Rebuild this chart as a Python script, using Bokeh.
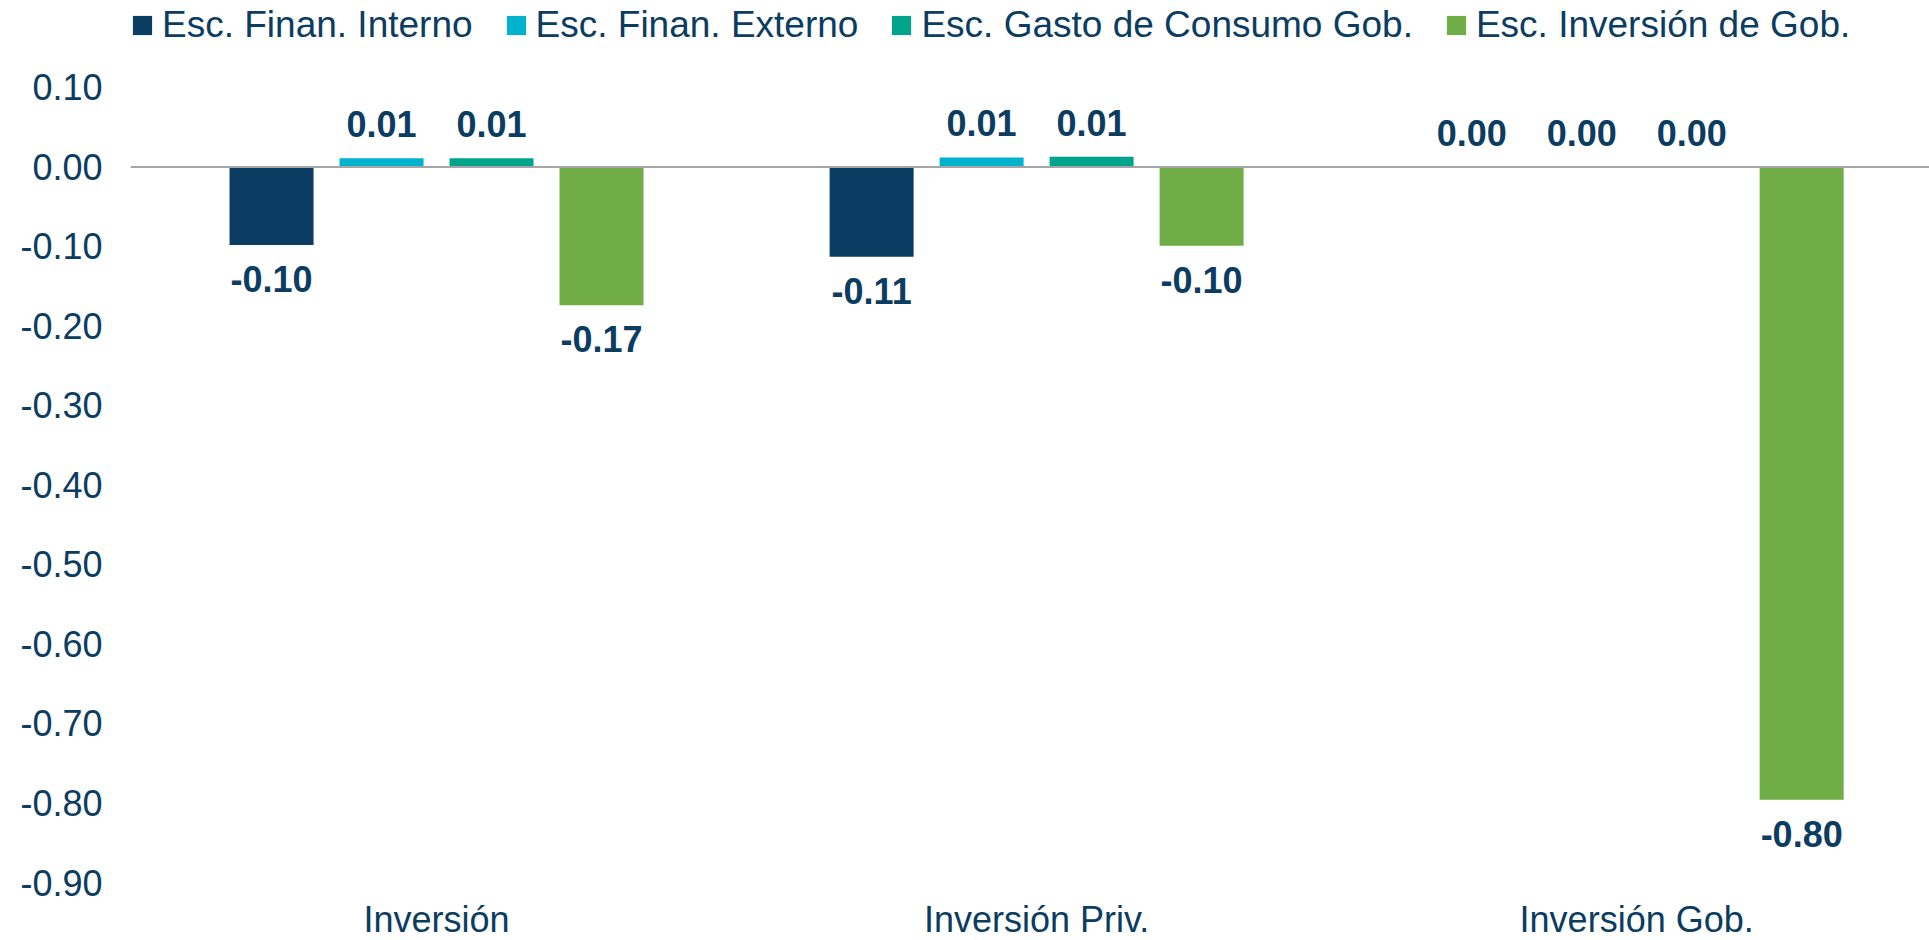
from bokeh.plotting import figure
from bokeh.models import (ColumnDataSource, Range1d, FixedTicker, NumeralTickFormatter,
                          Span, Legend, LegendItem)
from bokeh.transform import dodge
from bokeh.core.properties import value
from bokeh.embed import file_html
from bokeh.resources import INLINE

categories = ["Inversión", "Inversión Priv.", "Inversión Gob."]
series_names = ["Esc. Finan. Interno", "Esc. Finan. Externo",
                "Esc. Gasto de Consumo Gob.", "Esc. Inversión de Gob."]
finan_interno = [-0.098, -0.113, 0.000]
finan_externo = [0.011, 0.012, 0.000]
gasto_consumo = [0.011, 0.013, 0.000]
inversion_gob = [-0.174, -0.099, -0.796]
y_ticks = [0.10, 0.00, -0.10, -0.20, -0.30, -0.40, -0.50, -0.60, -0.70, -0.80, -0.90]

colors = ["#0B3C61", "#00B2CD", "#00A38C", "#70AD47"]
TEXT = "#0B3C61"
FONT = "Liberation Sans"

series = [finan_interno, finan_externo, gasto_consumo, inversion_gob]
pos = [i + 0.5 for i in range(len(categories))]

p = figure(frame_width=1799, frame_height=882, output_backend="svg", toolbar_location=None,
           x_range=Range1d(-0.01, 2.988), y_range=Range1d(-0.9, 0.2094),
           min_border_left=130, min_border_top=0, min_border_right=0, min_border_bottom=0)
p.outline_line_color = None
p.xgrid.grid_line_color = None
p.ygrid.grid_line_color = None
p.background_fill_color = "white"

bar_w = 0.14
step = 0.1833
offsets = [-1.5 * step, -0.5 * step, 0.5 * step, 1.5 * step]

items = []
for k, (name, vals, col, off) in enumerate(zip(series_names, series, colors, offsets)):
    src = ColumnDataSource(dict(pos=pos, val=vals))
    r = p.vbar(x=dodge("pos", off, range=p.x_range), top="val", bottom=0, width=bar_w,
               source=src, fill_color=col, line_color=None)
    items.append(LegendItem(label=name, renderers=[r]))
    pos_src = ColumnDataSource(dict(pos=[a for a, v in zip(pos, vals) if v >= 0],
                                    val=[v for v in vals if v >= 0],
                                    lbl=["%.2f" % v for v in vals if v >= 0]))
    neg_src = ColumnDataSource(dict(pos=[a for a, v in zip(pos, vals) if v < 0],
                                    val=[v for v in vals if v < 0],
                                    lbl=["%.2f" % v for v in vals if v < 0]))
    p.text(x=dodge("pos", off, range=p.x_range), y="val", text="lbl", source=pos_src,
           text_align="center", text_baseline="alphabetic", y_offset=-34,
           text_font=value(FONT), text_font_size="36px", text_font_style="bold",
           text_color=TEXT)
    p.text(x=dodge("pos", off, range=p.x_range), y="val", text="lbl", source=neg_src,
           text_align="center", text_baseline="alphabetic", y_offset=34,
           text_font=value(FONT), text_font_size="36px", text_font_style="bold",
           text_color=TEXT)

p.add_layout(Span(location=0, dimension="width", line_color="#A6A6A6", line_width=2))

# y axis
p.yaxis.ticker = FixedTicker(ticks=y_ticks)
p.yaxis.formatter = NumeralTickFormatter(format="0.00")
p.yaxis.axis_line_color = None
p.yaxis.major_tick_line_color = None
p.yaxis.minor_tick_line_color = None
p.yaxis.major_tick_out = 0
p.yaxis.major_tick_in = 0
p.yaxis.major_label_standoff = 28
p.yaxis.major_label_text_font = FONT
p.yaxis.major_label_text_font_size = "36px"
p.yaxis.major_label_text_color = TEXT

# x axis
p.xaxis.ticker = FixedTicker(ticks=pos)
p.xaxis.major_label_overrides = {a: c for a, c in zip(pos, categories)}
p.xaxis.axis_line_color = None
p.xaxis.major_tick_line_color = None
p.xaxis.minor_tick_line_color = None
p.xaxis.major_tick_out = 0
p.xaxis.major_tick_in = 0
p.xaxis.major_label_standoff = 16
p.xaxis.major_label_text_font = FONT
p.xaxis.major_label_text_font_size = "36px"
p.xaxis.major_label_text_color = TEXT

legend = Legend(items=items, orientation="horizontal", location=(0, 836),
                glyph_width=24, glyph_height=24, label_standoff=8, spacing=31,
                padding=0, margin=0, border_line_color=None, background_fill_alpha=0,
                label_text_font=FONT, label_text_font_size="37px", label_text_color=TEXT)
p.add_layout(legend, "center")

open("out.html", "w").write(file_html(p, INLINE))
